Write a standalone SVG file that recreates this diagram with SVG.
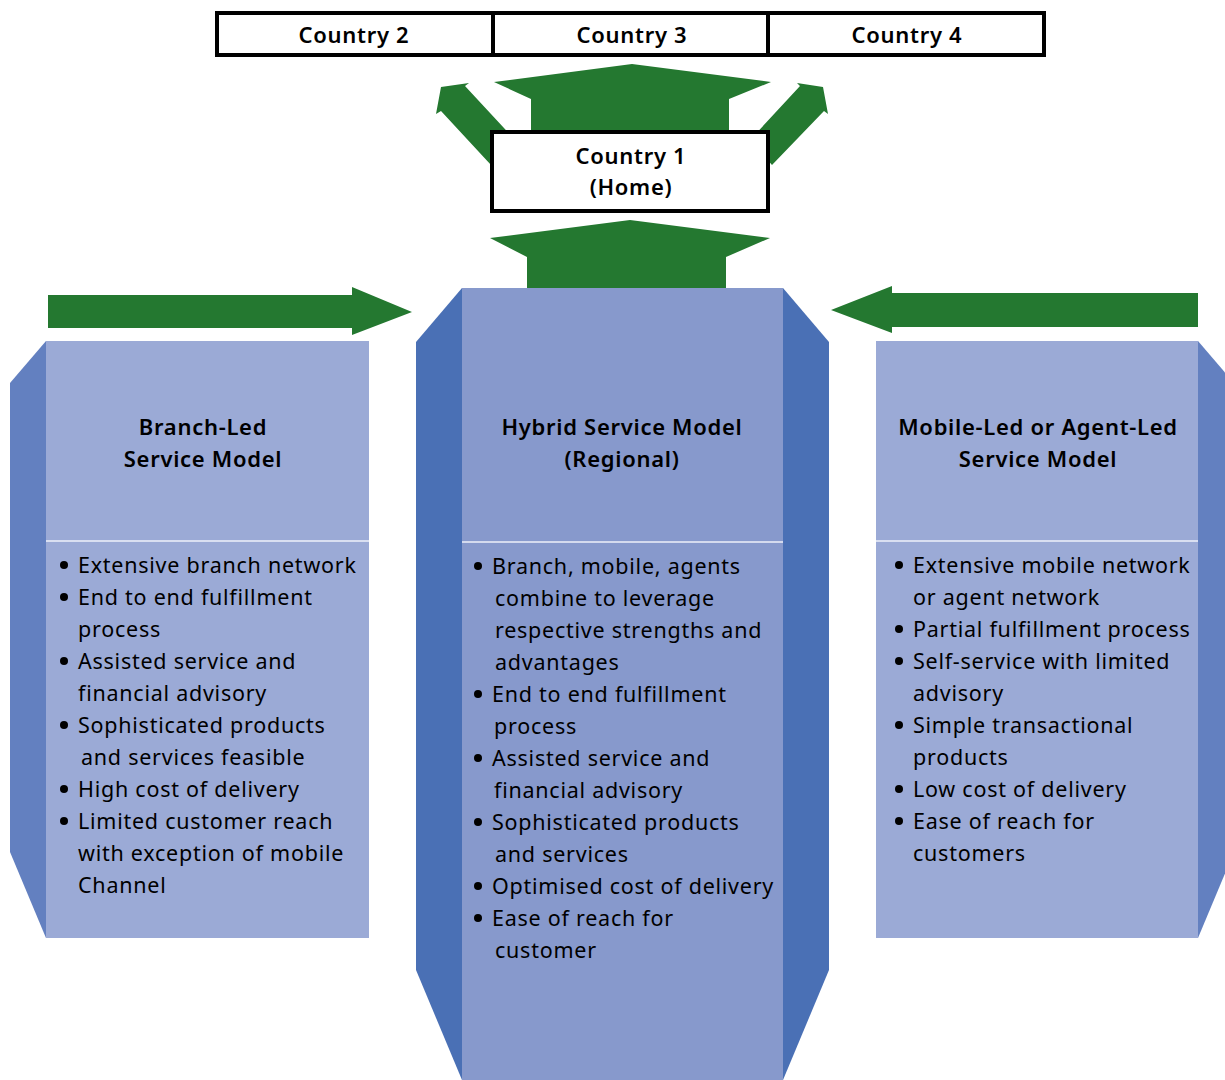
<svg xmlns="http://www.w3.org/2000/svg" width="1225" height="1080" viewBox="0 0 1225 1080">
  <style>
    .green { fill: #247830; }
    .face-side { fill: #9BAAD6; }
    .face-mid { fill: #8799CC; }
    .bevel-side { fill: #6380C0; }
    .bevel-mid { fill: #4A70B5; }
    .sep { stroke: #EEF1FA; stroke-width: 1.5; }
    .box { fill: #FFFFFF; stroke: #000000; stroke-width: 4; }
    .title { font-family: "Noto Sans", "Open Sans", sans-serif; font-size: 22px; font-weight: 600; fill: #000; text-anchor: middle; letter-spacing: 0.7px; }
    .item { font-family: "Noto Sans", "Open Sans", sans-serif; font-size: 21.5px; fill: #000; letter-spacing: 0.75px; }
    .dot { fill: #000; }
  </style>

  <!-- connectors: green block arrows -->
  <g id="connectors">
    <!-- home to country 2 (diagonal, up-left) -->
    <polygon class="green" points="441,87 469,83 465,86 515,140 491,165 441,111 436,114"/>
    <!-- home to country 4 (diagonal, up-right) -->
    <polygon class="green" points="823,87 797,83 800,86 750,140 772,165 824,111 828,114"/>
    <!-- home to country 3 (straight up) -->
    <polygon class="green" points="632,64 771,82 729,99 729,135 531,135 531,99 494,82"/>
    <!-- regional model to home -->
    <polygon class="green" points="630,220 770,238 726,257 726,290 527,290 527,257 490,238"/>
    <!-- branch-led into hybrid -->
    <polygon class="green" points="48,295 352,295 352,287 412,312 352,335 352,328 48,328"/>
    <!-- mobile/agent-led into hybrid -->
    <polygon class="green" points="1198,293 892,293 892,286 831,310 892,333 892,327 1198,327"/>
  </g>

  <!-- destination countries -->
  <g id="countries">
    <rect class="box" x="217" y="13" width="827" height="42"/>
    <line x1="493" y1="13" x2="493" y2="55" stroke="#000" stroke-width="4"/>
    <line x1="768" y1="13" x2="768" y2="55" stroke="#000" stroke-width="4"/>
    <text class="title" x="354" y="43">Country 2</text>
    <text class="title" x="632" y="43">Country 3</text>
    <text class="title" x="907" y="43">Country 4</text>
  </g>

  <!-- home country -->
  <g id="home">
    <rect class="box" x="492" y="132" width="276" height="79"/>
    <text class="title" x="631" y="164">Country 1</text>
    <text class="title" x="631" y="195">(Home)</text>
  </g>

  <!-- left column: branch-led model -->
  <g id="branch-led">
    <polygon class="bevel-side" points="46,341 10,383 10,852 46,938"/>
    <rect class="face-side" x="46" y="341" width="323" height="597"/>
    <line class="sep" x1="46" y1="541" x2="369" y2="541"/>
    <text class="title" x="203" y="435">Branch-Led</text>
    <text class="title" x="203" y="467">Service Model</text>
    <g class="item">
      <circle class="dot" cx="64" cy="565" r="4"/>
      <text x="78" y="573">Extensive branch network</text>
      <circle class="dot" cx="64" cy="597" r="4"/>
      <text x="78" y="605">End to end fulfillment</text>
      <text x="78" y="637">process</text>
      <circle class="dot" cx="64" cy="661" r="4"/>
      <text x="78" y="669">Assisted service and</text>
      <text x="78" y="701">financial advisory</text>
      <circle class="dot" cx="64" cy="725" r="4"/>
      <text x="78" y="733">Sophisticated products</text>
      <text x="81" y="765">and services feasible</text>
      <circle class="dot" cx="64" cy="789" r="4"/>
      <text x="78" y="797">High cost of delivery</text>
      <circle class="dot" cx="64" cy="821" r="4"/>
      <text x="78" y="829">Limited customer reach</text>
      <text x="78" y="861">with exception of mobile</text>
      <text x="78" y="893">Channel</text>
    </g>
  </g>

  <!-- centre column: hybrid model -->
  <g id="hybrid">
    <polygon class="bevel-mid" points="462,288 416,342 416,970 462,1080"/>
    <polygon class="bevel-mid" points="783,288 829,342 829,970 783,1080"/>
    <rect class="face-mid" x="462" y="288" width="321" height="792"/>
    <line class="sep" x1="462" y1="542" x2="783" y2="542"/>
    <text class="title" x="622" y="435">Hybrid Service Model</text>
    <text class="title" x="622" y="467">(Regional)</text>
    <g class="item">
      <circle class="dot" cx="478" cy="566" r="4"/>
      <text x="492" y="574">Branch, mobile, agents</text>
      <text x="495" y="606">combine to leverage</text>
      <text x="495" y="638">respective strengths and</text>
      <text x="495" y="670">advantages</text>
      <circle class="dot" cx="478" cy="694" r="4"/>
      <text x="492" y="702">End to end fulfillment</text>
      <text x="494" y="734">process</text>
      <circle class="dot" cx="478" cy="758" r="4"/>
      <text x="492" y="766">Assisted service and</text>
      <text x="494" y="798">financial advisory</text>
      <circle class="dot" cx="478" cy="822" r="4"/>
      <text x="492" y="830">Sophisticated products</text>
      <text x="495" y="862">and services</text>
      <circle class="dot" cx="478" cy="886" r="4"/>
      <text x="492" y="894">Optimised cost of delivery</text>
      <circle class="dot" cx="478" cy="918" r="4"/>
      <text x="492" y="926">Ease of reach for</text>
      <text x="495" y="958">customer</text>
    </g>
  </g>

  <!-- right column: mobile-led or agent-led model -->
  <g id="mobile-led">
    <polygon class="bevel-side" points="1198,341 1234,383 1234,852 1198,938"/>
    <rect class="face-side" x="876" y="341" width="322" height="597"/>
    <line class="sep" x1="876" y1="541" x2="1198" y2="541"/>
    <text class="title" x="1038" y="435">Mobile-Led or Agent-Led</text>
    <text class="title" x="1038" y="467">Service Model</text>
    <g class="item">
      <circle class="dot" cx="899" cy="565" r="4"/>
      <text x="913" y="573">Extensive mobile network</text>
      <text x="913" y="605">or agent network</text>
      <circle class="dot" cx="899" cy="629" r="4"/>
      <text x="913" y="637">Partial fulfillment process</text>
      <circle class="dot" cx="899" cy="661" r="4"/>
      <text x="913" y="669">Self-service with limited</text>
      <text x="913" y="701">advisory</text>
      <circle class="dot" cx="899" cy="725" r="4"/>
      <text x="913" y="733">Simple transactional</text>
      <text x="913" y="765">products</text>
      <circle class="dot" cx="899" cy="789" r="4"/>
      <text x="913" y="797">Low cost of delivery</text>
      <circle class="dot" cx="899" cy="821" r="4"/>
      <text x="913" y="829">Ease of reach for</text>
      <text x="913" y="861">customers</text>
    </g>
  </g>
</svg>
